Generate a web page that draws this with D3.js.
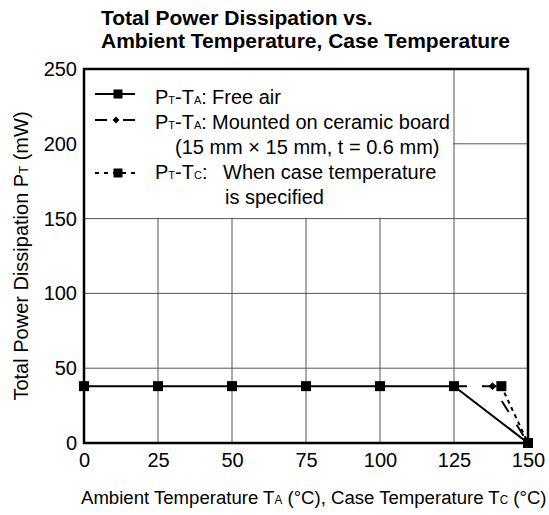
<!DOCTYPE html>
<html>
<head>
<meta charset="utf-8">
<script src="https://cdn.jsdelivr.net/npm/d3@7"></script>
<style>
  body { margin: 0; background: #fff; }
  text { font-family: "Liberation Sans", Arial, sans-serif; fill: #000; }
</style>
</head>
<body>
<div id="chart"></div>
<script>
// values
var xTicks = [0, 25, 50, 75, 100, 125, 150];
var yTicks = [0, 50, 100, 150, 200, 250];

var freeAirT = [0, 25, 50, 75, 100, 125, 150];
var freeAirP = [38, 38, 38, 38, 38, 38, 0];

var ceramicT = [125, 138, 150];
var ceramicP = [38, 38, 0];

var caseT = [138, 141, 150];
var caseP = [38, 38, 0];

var width = 549, height = 515;
var margin = {left: 84, right: 21, top: 69, bottom: 72};

var svg = d3.select("#chart").append("svg")
    .attr("width", width)
    .attr("height", height);

var x = d3.scaleLinear().domain([0, 150]).range([margin.left, width - margin.right]);
var y = d3.scaleLinear().domain([0, 250]).range([height - margin.bottom, margin.top]);

// title
svg.append("text").attr("x", 101).attr("y", 25)
    .style("font-size", "21px").style("font-weight", "bold")
    .text("Total Power Dissipation vs.");
svg.append("text").attr("x", 101).attr("y", 48)
    .style("font-size", "21px").style("font-weight", "bold")
    .text("Ambient Temperature, Case Temperature");

// grid
svg.append("g").selectAll("line").data(xTicks.slice(1, -1)).enter().append("line")
    .attr("x1", d => x(d)).attr("x2", d => x(d))
    .attr("y1", y(0)).attr("y2", y(250))
    .attr("stroke", "#555").attr("stroke-width", 1);
svg.append("g").selectAll("line").data(yTicks.slice(1, -1)).enter().append("line")
    .attr("x1", x(0)).attr("x2", x(150))
    .attr("y1", d => y(d)).attr("y2", d => y(d))
    .attr("stroke", "#555").attr("stroke-width", 1);

// legend background hides grid under it
svg.append("rect")
    .attr("x", x(0)).attr("y", y(250))
    .attr("width", x(125) - x(0) - 1).attr("height", y(150) - y(250) - 1)
    .attr("fill", "#fff");

// axes tick labels
var xAxis = d3.axisBottom(x).tickValues(xTicks).tickSize(0).tickPadding(10);
var gx = svg.append("g").attr("transform", "translate(0," + y(0) + ")").call(xAxis);
gx.select(".domain").remove();
gx.selectAll("text").style("font-size", "20px").style("font-family", "Liberation Sans, Arial, sans-serif");

var yAxis = d3.axisLeft(y).tickValues(yTicks).tickSize(0).tickPadding(7);
var gy = svg.append("g").attr("transform", "translate(" + x(0) + ",0)").call(yAxis);
gy.select(".domain").remove();
gy.selectAll("text").style("font-size", "20px").style("font-family", "Liberation Sans, Arial, sans-serif");

// axis titles (x title is condensed in the original, squeeze it to fit)
var xt = svg.append("text").style("font-size", "19px");
xt.append("tspan").text("Ambient Temperature T");
xt.append("tspan").style("font-size", "12px").text("A");
xt.append("tspan").text(" (°C), Case Temperature T");
xt.append("tspan").style("font-size", "12px").text("C");
xt.append("tspan").text(" (°C)");
var xtw = xt.node().getComputedTextLength();
xt.attr("transform", "translate(81,504) scale(" + (466 / xtw) + ",1)");

var yt = svg.append("text")
    .attr("transform", "translate(28," + ((y(0) + y(250)) / 2) + ") rotate(-90)")
    .attr("text-anchor", "middle")
    .style("font-size", "20px");
yt.append("tspan").text("Total Power Dissipation P");
yt.append("tspan").style("font-size", "13px").text("T");
yt.append("tspan").text(" (mW)");

// series
function pts(ts, ps) { return ts.map((t, i) => [t, ps[i]]); }
var line = d3.line().x(d => x(d[0])).y(d => y(d[1]));

var ceramic = pts(ceramicT, ceramicP);
var cased = pts(caseT, caseP);
var free = pts(freeAirT, freeAirP);

svg.append("path").datum(cased).attr("d", line)
    .attr("fill", "none").attr("stroke", "#000").attr("stroke-width", 2)
    .attr("stroke-dasharray", "4,4");
svg.append("path").datum(ceramic).attr("d", line)
    .attr("fill", "none").attr("stroke", "#000").attr("stroke-width", 2)
    .attr("stroke-dasharray", "13,15");
svg.append("path").datum(free).attr("d", line)
    .attr("fill", "none").attr("stroke", "#000").attr("stroke-width", 2);

var sq = 10;
svg.append("g").selectAll("rect").data(free).enter().append("rect")
    .attr("x", d => x(d[0]) - sq / 2).attr("y", d => y(d[1]) - sq / 2)
    .attr("width", sq).attr("height", sq).attr("fill", "#000");
svg.append("rect")
    .attr("x", x(cased[1][0]) - sq / 2).attr("y", y(cased[1][1]) - sq / 2)
    .attr("width", sq).attr("height", sq).attr("fill", "#000");
svg.append("path")
    .attr("transform", "translate(" + x(ceramic[1][0]) + "," + y(ceramic[1][1]) + ")")
    .attr("d", d3.symbol().type(d3.symbolDiamond2).size(40))
    .attr("fill", "#000");

// frame
svg.append("rect")
    .attr("x", x(0)).attr("y", y(250))
    .attr("width", x(150) - x(0)).attr("height", y(0) - y(250))
    .attr("fill", "none").attr("stroke", "#000").attr("stroke-width", 2.5);

// legend
var lg = svg.append("g").style("font-size", "20px");
var rows = [104, 129, 154, 179, 204];
var symY = [94, 120, 0, 173];

function sub(t, main1, s1, main2, s2, rest) {
  t.append("tspan").text(main1);
  t.append("tspan").style("font-size", "11px").text(s1);
  t.append("tspan").text(main2);
  t.append("tspan").style("font-size", "11px").text(s2);
  t.append("tspan").text(rest);
}

// row 1 symbol
lg.append("line").attr("x1", 95).attr("x2", 135).attr("y1", symY[0]).attr("y2", symY[0])
    .attr("stroke", "#000").attr("stroke-width", 2);
lg.append("rect").attr("x", 118 - 4.5).attr("y", symY[0] - 4.5).attr("width", 9).attr("height", 9).attr("fill", "#000");
sub(lg.append("text").attr("x", 155).attr("y", rows[0]), "P", "T", "-T", "A", ":");
lg.append("text").attr("x", 212).attr("y", rows[0]).text("Free air");

// row 2 symbol
lg.append("line").attr("x1", 95).attr("x2", 135).attr("y1", symY[1]).attr("y2", symY[1])
    .attr("stroke", "#000").attr("stroke-width", 2).attr("stroke-dasharray", "12,16");
lg.append("path").attr("transform", "translate(116," + symY[1] + ")")
    .attr("d", d3.symbol().type(d3.symbolDiamond2).size(30)).attr("fill", "#000");
sub(lg.append("text").attr("x", 155).attr("y", rows[1]), "P", "T", "-T", "A", ":");
lg.append("text").attr("x", 212).attr("y", rows[1]).text("Mounted on ceramic board");
lg.append("text").attr("x", 175).attr("y", rows[2]).text("(15 mm \u00d7 15 mm, t = 0.6 mm)");

// row 4 symbol
lg.append("line").attr("x1", 95).attr("x2", 135).attr("y1", symY[3]).attr("y2", symY[3])
    .attr("stroke", "#000").attr("stroke-width", 2).attr("stroke-dasharray", "4,5");
lg.append("rect").attr("x", 118 - 4.5).attr("y", symY[3] - 4.5).attr("width", 9).attr("height", 9).attr("fill", "#000");
sub(lg.append("text").attr("x", 155).attr("y", rows[3]), "P", "T", "-T", "C", ":");
lg.append("text").attr("x", 223).attr("y", rows[3]).text("When case temperature");
lg.append("text").attr("x", 225).attr("y", rows[4]).text("is specified");
</script>
</body>
</html>
